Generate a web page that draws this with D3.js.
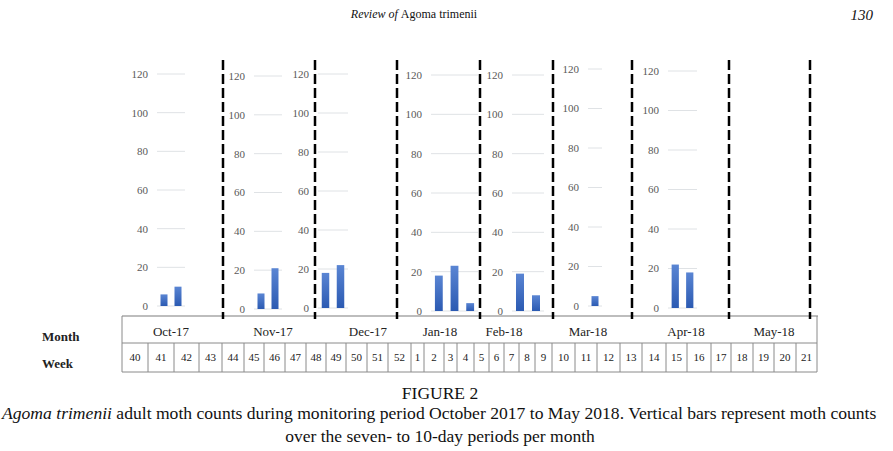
<!DOCTYPE html>
<html>
<head>
<meta charset="utf-8">
<script src="https://cdn.jsdelivr.net/npm/d3@7"></script>
<style>
  body { margin: 0; background: #fff; }
  svg { display: block; font-family: "Liberation Serif", "Times New Roman", serif; }
</style>
</head>
<body>
<div id="chart"></div>
<script>
// data
var months = ["Oct-17", "Nov-17", "Dec-17", "Jan-18", "Feb-18", "Mar-18", "Apr-18", "May-18"];
var weeks = [40, 41, 42, 43, 44, 45, 46, 47, 48, 49, 50, 51, 52,
             1, 2, 3, 4, 5, 6, 7, 8, 9, 10, 11, 12, 13, 14, 15, 16, 17, 18, 19, 20, 21];
var yTicks = [0, 20, 40, 60, 80, 100, 120];

// moth counts per sampling period, one list per month
var octCounts = [6, 10];
var novCounts = [8, 21];
var decCounts = [18, 22];
var janCounts = [18, 23, 4];
var febCounts = [19, 8];
var marCounts = [5];
var aprCounts = [22, 18];
var mayCounts = [];
var counts = [octCounts, novCounts, decCounts, janCounts, febCounts, marCounts, aprCounts, mayCounts];

// layout (pixel positions of the pasted panels and table)
var width = 893, height = 451;
var panels = [
    { x0: 157, x1: 185, y0: 306, y1: 74 },
    { x0: 254, x1: 282, y0: 309, y1: 76 },
    { x0: 318, x1: 348, y0: 308, y1: 74 },
    { x0: 431, x1: 478, y0: 311, y1: 75 },
    { x0: 512, x1: 544, y0: 311, y1: 75 },
    { x0: 588, x1: 602, y0: 306, y1: 69 },
    { x0: 668, x1: 697, y0: 308, y1: 71 },
    null
];
var labelGap = 9;
var dashX = [223, 315, 397, 480, 553, 632, 729, 810];
var weekEdges = [122, 148, 174, 199, 222, 244, 264, 285, 306, 326, 346, 367, 388, 411, 424, 444,
                 457, 474, 489, 504, 519, 535, 552, 575, 597, 620, 642, 666, 687, 711, 731, 753, 774, 796, 817];
var monthX = [171, 273, 368, 440, 504, 588, 686, 774];
var tableTop = 316, weekTop = 343, tableBottom = 372;

var svg = d3.select("#chart").append("svg")
    .attr("width", width)
    .attr("height", height);

var defs = svg.append("defs");
var grad = defs.append("linearGradient")
    .attr("id", "barGrad")
    .attr("x1", 0).attr("y1", 0).attr("x2", 0).attr("y2", 1);
grad.append("stop").attr("offset", "0%").attr("stop-color", "#5a85d3");
grad.append("stop").attr("offset", "100%").attr("stop-color", "#2b5ab2");

// page header
var head = svg.append("text")
    .attr("x", 414).attr("y", 18)
    .attr("text-anchor", "middle")
    .style("font-size", "12px")
    .attr("fill", "#111");
head.append("tspan").style("font-style", "italic").text("Review of ");
head.append("tspan").text("Agoma trimenii");

svg.append("text")
    .attr("x", 873).attr("y", 20)
    .attr("text-anchor", "end")
    .style("font-size", "15px")
    .style("font-style", "italic")
    .attr("fill", "#111")
    .text("130");

// one small bar chart per month
counts.forEach(function (vals, i) {
    var p = panels[i];
    if (!p) return;

    var y = d3.scaleLinear().domain([0, 120]).range([p.y0, p.y1]);
    var x = d3.scaleBand()
        .domain(d3.range(vals.length))
        .range([p.x0, p.x1])
        .paddingInner(0.5)
        .paddingOuter(0.25);

    var g = svg.append("g");

    // gridlines
    g.selectAll(".grid")
        .data(yTicks)
        .enter().append("line")
        .attr("x1", p.x0).attr("x2", p.x1)
        .attr("y1", function (d) { return y(d); })
        .attr("y2", function (d) { return y(d); })
        .attr("stroke", "#dfe2e5")
        .attr("stroke-width", 1);

    // tick labels
    g.selectAll(".lab")
        .data(yTicks)
        .enter().append("text")
        .attr("x", p.x0 - labelGap)
        .attr("y", function (d) { return y(d); })
        .attr("dy", "0.35em")
        .attr("text-anchor", "end")
        .style("font-size", "11px")
        .attr("fill", "#595959")
        .text(function (d) { return d; });

    // bars
    g.selectAll(".bar")
        .data(vals)
        .enter().append("rect")
        .attr("x", function (d, j) { return x(j); })
        .attr("width", x.bandwidth())
        .attr("y", function (d) { return y(d); })
        .attr("height", function (d) { return y(0) - y(d); })
        .attr("fill", "url(#barGrad)");
});

// table: month row and week row
var table = svg.append("g");

table.append("line")
    .attr("x1", weekEdges[0]).attr("x2", weekEdges[weekEdges.length - 1] + 1)
    .attr("y1", tableTop).attr("y2", tableTop)
    .attr("stroke", "#bdbdbd").attr("stroke-width", 2);

table.append("line")
    .attr("x1", weekEdges[0]).attr("x2", weekEdges[0])
    .attr("y1", tableTop).attr("y2", tableBottom)
    .attr("stroke", "#8a8a8a");
table.append("line")
    .attr("x1", weekEdges[weekEdges.length - 1]).attr("x2", weekEdges[weekEdges.length - 1])
    .attr("y1", tableTop).attr("y2", tableBottom)
    .attr("stroke", "#8a8a8a");

table.selectAll(".hline")
    .data([weekTop, tableBottom])
    .enter().append("line")
    .attr("x1", weekEdges[0]).attr("x2", weekEdges[weekEdges.length - 1])
    .attr("y1", function (d) { return d; })
    .attr("y2", function (d) { return d; })
    .attr("stroke", "#8a8a8a");

table.selectAll(".cell")
    .data(weekEdges.slice(1, -1))
    .enter().append("line")
    .attr("x1", function (d) { return d; })
    .attr("x2", function (d) { return d; })
    .attr("y1", weekTop).attr("y2", tableBottom)
    .attr("stroke", "#8a8a8a");

table.selectAll(".wk")
    .data(weeks)
    .enter().append("text")
    .attr("x", function (d, i) { return (weekEdges[i] + weekEdges[i + 1]) / 2; })
    .attr("y", (weekTop + tableBottom) / 2)
    .attr("dy", "0.35em")
    .attr("text-anchor", "middle")
    .style("font-size", "11px")
    .attr("fill", "#222")
    .text(function (d) { return d; });

table.selectAll(".mo")
    .data(months)
    .enter().append("text")
    .attr("x", function (d, i) { return monthX[i]; })
    .attr("y", (tableTop + weekTop) / 2 + 2)
    .attr("dy", "0.35em")
    .attr("text-anchor", "middle")
    .style("font-size", "13px")
    .attr("fill", "#222")
    .text(function (d) { return d; });

table.append("text")
    .attr("x", 42).attr("y", 336).attr("dy", "0.35em")
    .style("font-size", "13px").style("font-weight", "bold")
    .attr("fill", "#222")
    .text("Month");
table.append("text")
    .attr("x", 42).attr("y", 363).attr("dy", "0.35em")
    .style("font-size", "13px").style("font-weight", "bold")
    .attr("fill", "#222")
    .text("Week");

// dashed month separators
svg.selectAll(".sep")
    .data(dashX)
    .enter().append("line")
    .attr("x1", function (d) { return d; })
    .attr("x2", function (d) { return d; })
    .attr("y1", 60).attr("y2", 319)
    .attr("stroke", "#000")
    .attr("stroke-width", 2.5)
    .attr("stroke-dasharray", "10,4");

// caption
svg.append("text")
    .attr("x", 440).attr("y", 399)
    .attr("text-anchor", "middle")
    .style("font-size", "17.5px")
    .attr("fill", "#111")
    .text("FIGURE 2");

var cap = svg.append("text")
    .attr("x", 2).attr("y", 419)
    .style("font-size", "17.6px")
    .attr("fill", "#111");
cap.append("tspan").style("font-style", "italic").text("Agoma trimenii");
cap.append("tspan").text(" adult moth counts during monitoring period October 2017 to May 2018. Vertical bars represent moth counts");

svg.append("text")
    .attr("x", 440).attr("y", 442)
    .attr("text-anchor", "middle")
    .style("font-size", "17.5px")
    .attr("fill", "#111")
    .text("over the seven- to 10-day periods per month");
</script>
</body>
</html>
